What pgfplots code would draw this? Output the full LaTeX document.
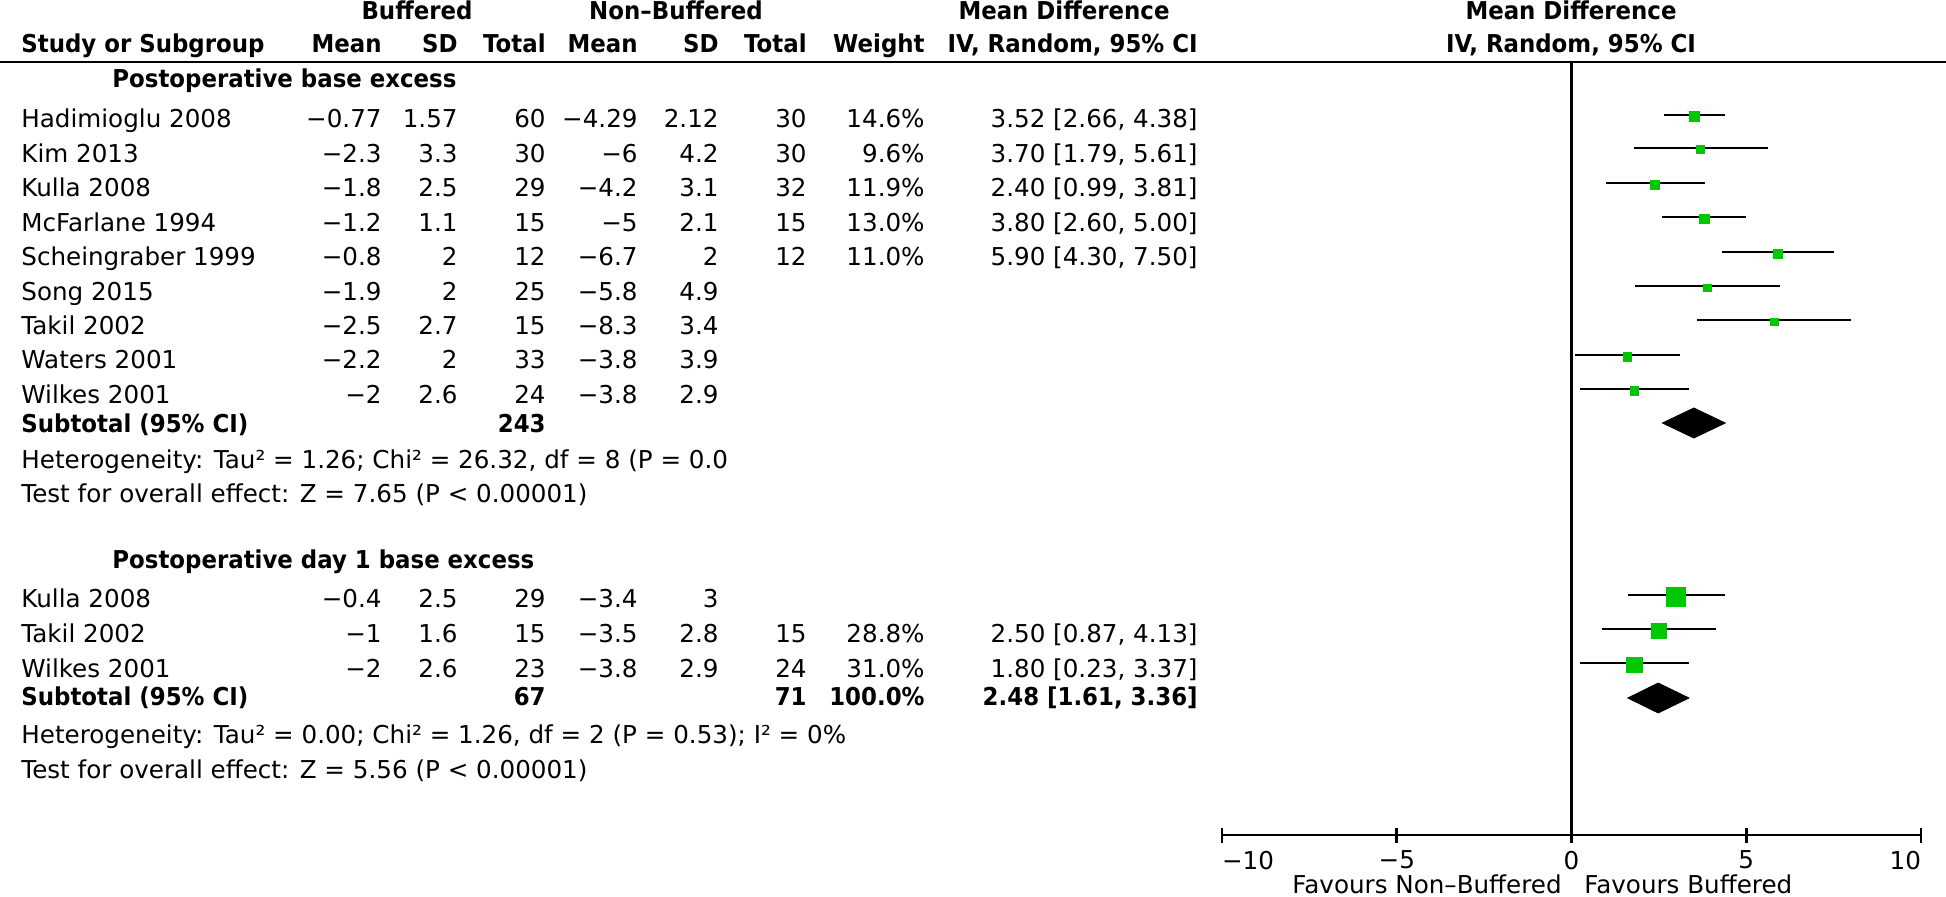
\documentclass[border=0pt]{standalone}
\usepackage{fontspec}
\setmainfont{DejaVu Sans}[BoldFeatures={FakeStretch=0.93}]
\usepackage{pgfplots}
\pgfplotsset{compat=1.18}
\definecolor{fgreen}{RGB}{0,200,0}
\newcommand\fs{\fontsize{12.3}{14}\selectfont}
\newcommand\rt[3]{\node[anchor=base east,inner sep=0pt,font=\fs] at (#1,#2) {#3};}
\newcommand\lt[3]{\node[anchor=base west,inner sep=0pt,font=\fs] at (#1,#2) {#3};}
\newcommand\ct[3]{\node[anchor=base,inner sep=0pt,font=\fs] at (#1,#2) {#3};}
\newcommand\row[9]{\lt{21}{#1}{#2}\rt{382}{#1}{#3}\rt{458}{#1}{#4}\rt{546}{#1}{#5}\rt{638}{#1}{#6}\rt{719}{#1}{#7}\rt{807}{#1}{#8}\rt{925}{#1}{#9}}
\begin{document}
\begin{tikzpicture}[x=0.5pt,y=0.5pt]
\useasboundingbox (0,0) rectangle (1946,896);
\clip (0,0) rectangle (1946,896);
% headers
\ct{417}{876}{\bfseries Buffered}
\ct{676}{876}{\bfseries Non–Buffered}
\ct{1064}{876}{\bfseries Mean Difference}
\ct{1571}{876}{\bfseries Mean Difference}
\lt{21}{843}{\bfseries Study or Subgroup}
\rt{382}{843}{\bfseries Mean}
\rt{458}{843}{\bfseries SD}
\rt{546}{843}{\bfseries Total}
\rt{638}{843}{\bfseries Mean}
\rt{719}{843}{\bfseries SD}
\rt{807}{843}{\bfseries Total}
\rt{925}{843}{\bfseries Weight}
\rt{1198}{843}{\bfseries IV, Random, 95\% CI}
\ct{1571}{843}{\bfseries IV, Random, 95\% CI}
\draw[line width=1.3pt] (0,834) -- (1946,834);
% group 1
\lt{112}{808}{\bfseries Postoperative base excess}
\row{768}{Hadimioglu 2008}{−0.77}{1.57}{60}{−4.29}{2.12}{30}{14.6\%}\rt{1198}{768}{3.52 [2.66, 4.38]}
\row{733.6}{Kim 2013}{−2.3}{3.3}{30}{−6}{4.2}{30}{9.6\%}\rt{1198}{733.6}{3.70 [1.79, 5.61]}
\row{699.2}{Kulla 2008}{−1.8}{2.5}{29}{−4.2}{3.1}{32}{11.9\%}\rt{1198}{699.2}{2.40 [0.99, 3.81]}
\row{664.8}{McFarlane 1994}{−1.2}{1.1}{15}{−5}{2.1}{15}{13.0\%}\rt{1198}{664.8}{3.80 [2.60, 5.00]}
\row{630.4}{Scheingraber 1999}{−0.8}{2}{12}{−6.7}{2}{12}{11.0\%}\rt{1198}{630.4}{5.90 [4.30, 7.50]}
\row{596}{Song 2015}{−1.9}{2}{25}{−5.8}{4.9}{}{}
\row{561.6}{Takil 2002}{−2.5}{2.7}{15}{−8.3}{3.4}{}{}
\row{527.2}{Waters 2001}{−2.2}{2}{33}{−3.8}{3.9}{}{}
\row{492.8}{Wilkes 2001}{−2}{2.6}{24}{−3.8}{2.9}{}{}
\lt{21}{464}{\bfseries Subtotal (95\% CI)}
\rt{546}{464}{\bfseries 243}
\lt{21}{428}{Heterogeneity: Tau² = 1.26; Chi² = 26.32, df = 8 (P = 0.0}
\lt{21}{394}{Test for overall effect: Z = 7.65 (P < 0.00001)}
% group 2
\lt{112}{328}{\bfseries Postoperative day 1 base excess}
\row{289}{Kulla 2008}{−0.4}{2.5}{29}{−3.4}{3}{}{}
\row{254}{Takil 2002}{−1}{1.6}{15}{−3.5}{2.8}{15}{28.8\%}\rt{1198}{254}{2.50 [0.87, 4.13]}
\row{219}{Wilkes 2001}{−2}{2.6}{23}{−3.8}{2.9}{24}{31.0\%}\rt{1198}{219}{1.80 [0.23, 3.37]}
\lt{21}{191}{\bfseries Subtotal (95\% CI)}
\rt{546}{191}{\bfseries 67}
\rt{807}{191}{\bfseries 71}
\rt{925}{191}{\bfseries 100.0\%}
\rt{1198}{191}{\bfseries 2.48 [1.61, 3.36]}
\lt{21}{153}{Heterogeneity: Tau² = 0.00; Chi² = 1.26, df = 2 (P = 0.53); I² = 0\%}
\lt{21}{118}{Test for overall effect: Z = 5.56 (P < 0.00001)}
% favours
\rt{1562}{3}{Favours Non–Buffered}
\lt{1584}{3}{Favours Buffered}
\begin{axis}[
  at={(611pt,30.5pt)}, anchor=south west,
  scale only axis, width=349.5pt, height=386.5pt,
  xmin=-10, xmax=10, ymin=61, ymax=834,
  clip=false,
  axis y line=none, axis x line=bottom,
  x axis line style={-, line width=1.4pt},
  xtick={-10,-5,0,5,10},
  xticklabels={\makebox[0pt][l]{−10},\mbox{−5},\mbox{0},\mbox{5},\makebox[0pt][r]{10}},
  tick align=center, major tick length=7.5pt,
  every tick/.style={black, line width=1.4pt},
  xticklabel style={font=\fs, inner sep=0pt, yshift=-4pt},
]
\addplot[black, line width=1.2pt] coordinates {(0,61) (0,834)};
% CI lines
\pgfplotsset{ci/.style={black, line width=1.45pt}}
\addplot[ci] coordinates {(2.66,781) (4.38,781)};
\addplot[ci] coordinates {(1.79,748) (5.61,748)};
\addplot[ci] coordinates {(0.99,713) (3.81,713)};
\addplot[ci] coordinates {(2.60,679) (5.00,679)};
\addplot[ci] coordinates {(4.30,644) (7.50,644)};
\addplot[ci] coordinates {(1.83,610) (5.97,610)};
\addplot[ci] coordinates {(3.60,576) (8.00,576)};
\addplot[ci] coordinates {(0.10,541) (3.10,541)};
\addplot[ci] coordinates {(0.24,507) (3.36,507)};
\addplot[ci] coordinates {(1.62,301) (4.38,301)};
\addplot[ci] coordinates {(0.87,267) (4.13,267)};
\addplot[ci] coordinates {(0.23,233) (3.37,233)};
% squares
\pgfplotsset{sq/.style={only marks, mark=square*, mark options={fill=fgreen, draw=fgreen, line width=0pt}}}
\addplot[sq, mark size=2.5pt] coordinates {(3.52,779)};
\addplot[sq, mark size=2.0pt] coordinates {(3.70,746)};
\addplot[sq, mark size=2.25pt] coordinates {(2.40,711)};
\addplot[sq, mark size=2.35pt] coordinates {(3.80,677)};
\addplot[sq, mark size=2.2pt] coordinates {(5.90,642)};
\addplot[sq, mark size=1.95pt] coordinates {(3.90,608)};
\addplot[sq, mark size=1.9pt] coordinates {(5.80,574)};
\addplot[sq, mark size=2.2pt] coordinates {(1.60,539)};
\addplot[sq, mark size=2.2pt] coordinates {(1.80,505)};
\addplot[sq, mark size=4.7pt] coordinates {(3.00,299)};
\addplot[sq, mark size=3.75pt] coordinates {(2.50,265)};
\addplot[sq, mark size=3.9pt] coordinates {(1.80,231)};
% diamonds
\addplot[fill=black, draw=black] coordinates {(2.60,473) (3.50,488) (4.40,473) (3.50,458) (2.60,473)} -- cycle;
\addplot[fill=black, draw=black] coordinates {(1.61,198) (2.48,213) (3.36,198) (2.48,183) (1.61,198)} -- cycle;
\end{axis}
\end{tikzpicture}
\end{document}
